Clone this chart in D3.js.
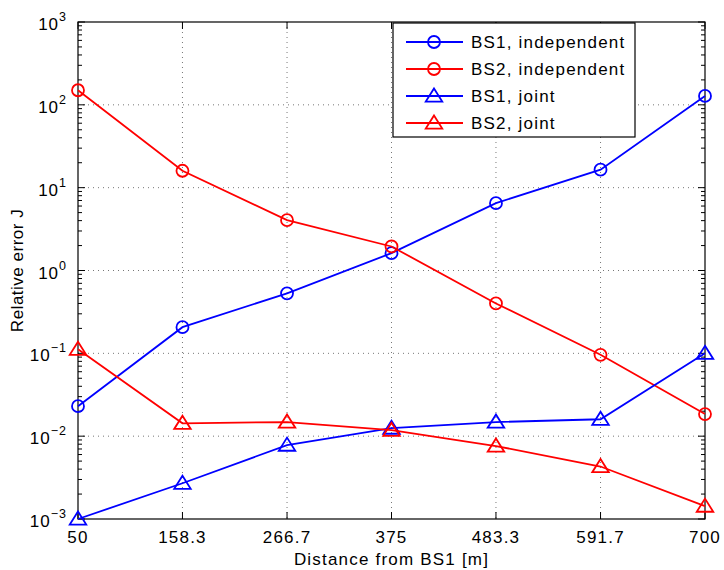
<!DOCTYPE html>
<meta charset="utf-8">
<script src="https://d3js.org/d3.v7.min.js"></script>
<style>
body { margin: 0; background: #fff; }
text { font-family: "Liberation Sans", Arial, Helvetica, sans-serif; fill: #000; }
</style>
<div id="chart"></div>
<script>
// distances along the axis (also the x tick labels)
const distances = [50, 158.3, 266.7, 375, 483.3, 591.7, 700];
const xTickLabels = ["50", "158.3", "266.7", "375", "483.3", "591.7", "700"];
const yDecades = [-3, -2, -1, 0, 1, 2, 3];

// relative error values
const bs1Independent = [0.023, 0.207, 0.53, 1.62, 6.5, 16.5, 128];
const bs2Independent = [150, 16.0, 4.05, 1.95, 0.40, 0.096, 0.0185];
const bs1Joint = [0.001, 0.0027, 0.0078, 0.0125, 0.0148, 0.016, 0.1];
const bs2Joint = [0.112, 0.0143, 0.0148, 0.0118, 0.0076, 0.0043, 0.00143];

const seriesNames = ["BS1, independent", "BS2, independent", "BS1, joint", "BS2, joint"];
const seriesColors = ["#0000ff", "#ff0000", "#0000ff", "#ff0000"];
const seriesMarkers = ["circle", "circle", "triangle", "triangle"];
const seriesValues = [bs1Independent, bs2Independent, bs1Joint, bs2Joint];

const margin = {top: 22, right: 19, bottom: 51, left: 78},
    width = 724 - margin.left - margin.right,
    height = 570 - margin.top - margin.bottom;

const svg = d3.select("#chart")
  .append("svg")
    .attr("width", 724)
    .attr("height", 570)
  .append("g")
    .attr("transform", `translate(${margin.left},${margin.top})`);

const x = d3.scaleLinear().domain([50, 700]).range([0, width]);
const y = d3.scaleLog().domain([1e-3, 1e3]).range([height, 0]);

// grid lines (dotted)
const grid = svg.append("g").attr("stroke", "#777").attr("stroke-width", 1)
  .attr("stroke-dasharray", "1,4");
grid.selectAll("line.vx")
  .data(distances.slice(1, -1))
  .join("line")
    .attr("x1", d => x(d)).attr("x2", d => x(d))
    .attr("y1", 0).attr("y2", height);
grid.selectAll("line.hy")
  .data(yDecades.slice(1, -1))
  .join("line")
    .attr("class", "hy")
    .attr("x1", 0).attr("x2", width)
    .attr("y1", d => y(Math.pow(10, d))).attr("y2", d => y(Math.pow(10, d)));

// minor log ticks on left and right, major ticks
const minor = [];
yDecades.slice(0, -1).forEach(e => {
  for (let m = 2; m <= 9; m++) minor.push(m * Math.pow(10, e));
});
const ticks = svg.append("g").attr("stroke", "#000").attr("stroke-width", 1);
ticks.selectAll("line.ml")
  .data(minor)
  .join("line")
    .attr("x1", 0).attr("x2", 4)
    .attr("y1", d => y(d)).attr("y2", d => y(d));
ticks.selectAll("line.mr")
  .data(minor)
  .join("line")
    .attr("class", "mr")
    .attr("x1", width).attr("x2", width - 4)
    .attr("y1", d => y(d)).attr("y2", d => y(d));
ticks.selectAll("line.Ml")
  .data(yDecades)
  .join("line")
    .attr("class", "Ml")
    .attr("x1", 0).attr("x2", 7)
    .attr("y1", d => y(Math.pow(10, d))).attr("y2", d => y(Math.pow(10, d)));
ticks.selectAll("line.Mr")
  .data(yDecades)
  .join("line")
    .attr("class", "Mr")
    .attr("x1", width).attr("x2", width - 7)
    .attr("y1", d => y(Math.pow(10, d))).attr("y2", d => y(Math.pow(10, d)));
ticks.selectAll("line.xb")
  .data(distances)
  .join("line")
    .attr("class", "xb")
    .attr("x1", d => x(d)).attr("x2", d => x(d))
    .attr("y1", height).attr("y2", height - 7);
ticks.selectAll("line.xt")
  .data(distances)
  .join("line")
    .attr("class", "xt")
    .attr("x1", d => x(d)).attr("x2", d => x(d))
    .attr("y1", 0).attr("y2", 7);

// axes box
svg.append("rect")
  .attr("width", width).attr("height", height)
  .attr("fill", "none").attr("stroke", "#000").attr("stroke-width", 1.2);

// x tick labels
svg.selectAll("text.xl")
  .data(distances)
  .join("text")
    .attr("x", d => x(d))
    .attr("y", height + 24)
    .attr("text-anchor", "middle")
    .style("font-size", "17px")
    .style("letter-spacing", "1.2px")
    .text((d, i) => xTickLabels[i]);

// y tick labels: 10^e
const yl = svg.selectAll("text.yl")
  .data(yDecades)
  .join("text")
    .attr("x", -11)
    .attr("y", d => y(Math.pow(10, d)) + 8)
    .attr("text-anchor", "end")
    .style("font-size", "17px")
    .style("letter-spacing", "1px");
yl.append("tspan").text("10");
yl.append("tspan")
  .attr("dy", -9)
  .style("font-size", "12.5px")
  .text(d => d < 0 ? "\u2212" + (-d) : d);

// axis titles
svg.append("text")
  .attr("x", width / 2)
  .attr("y", height + 46)
  .attr("text-anchor", "middle")
  .style("font-size", "17px")
  .style("letter-spacing", "1.2px")
  .text("Distance from BS1 [m]");
svg.append("text")
  .attr("transform", `translate(-55,${height / 2}) rotate(-90)`)
  .attr("text-anchor", "middle")
  .style("font-size", "17px")
  .style("letter-spacing", "0.5px")
  .text("Relative error J");

// lines and markers
const line = d3.line()
  .x((d, i) => x(distances[i]))
  .y(d => y(d));

const triangle = s => `M0,${-s}L${s * 1.1},${s * 0.75}L${-s * 1.1},${s * 0.75}Z`;

function drawMarker(g, type, color) {
  if (type === "circle") {
    g.append("circle").attr("r", 6)
      .attr("fill", "none").attr("stroke", color).attr("stroke-width", 1.8);
  } else {
    g.append("path").attr("d", triangle(7.5))
      .attr("fill", "none").attr("stroke", color).attr("stroke-width", 1.8);
  }
}

seriesValues.forEach((vals, k) => {
  svg.append("path")
    .attr("d", line(vals))
    .attr("fill", "none")
    .attr("stroke", seriesColors[k])
    .attr("stroke-width", 1.8);
  vals.forEach((v, i) => {
    const g = svg.append("g")
      .attr("transform", `translate(${x(distances[i])},${y(v)})`);
    drawMarker(g, seriesMarkers[k], seriesColors[k]);
  });
});

// legend
const legend = svg.append("g").attr("transform", "translate(315,1)");
legend.append("rect")
  .attr("width", 242).attr("height", 114)
  .attr("fill", "#fff").attr("stroke", "#000").attr("stroke-width", 1.2);
seriesNames.forEach((name, k) => {
  const row = legend.append("g").attr("transform", `translate(0,${19 + k * 27})`);
  row.append("line")
    .attr("x1", 13).attr("x2", 70)
    .attr("stroke", seriesColors[k]).attr("stroke-width", 1.8);
  const m = row.append("g").attr("transform", "translate(41,0)");
  drawMarker(m, seriesMarkers[k], seriesColors[k]);
  row.append("text")
    .attr("x", 78).attr("y", 6)
    .style("font-size", "17px")
    .style("letter-spacing", "1.2px")
    .text(name);
});
</script>
